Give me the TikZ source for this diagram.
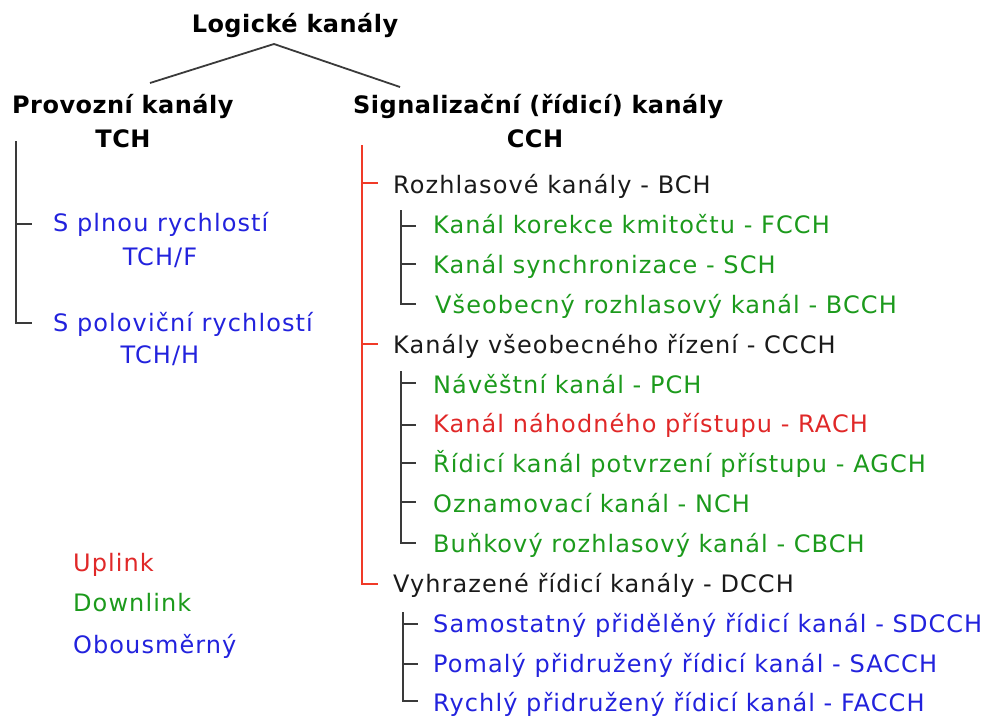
\documentclass[tikz,border=0pt]{standalone}
\usepackage{fontspec}
\setmainfont{DejaVu Sans}[LetterSpace=4.5]
\newfontfamily\headfont{DejaVu Sans}[LetterSpace=2]
\definecolor{upc}{HTML}{E02828}
\definecolor{downc}{HTML}{1C9A1C}
\definecolor{bothc}{HTML}{2222DD}
\definecolor{txtc}{HTML}{1A1A1A}
\definecolor{linec}{HTML}{3A3A3A}
\definecolor{redline}{HTML}{F03A28}
\tikzset{
  x=1pt, y=-1pt,
  lbl/.style={inner sep=0pt, anchor=west, text height=17.5pt, text depth=0pt,
    font=\fontsize{24}{27}\selectfont, text=txtc},
  head/.style={inner sep=0pt, text height=17pt, text depth=0pt,
    font=\headfont\fontsize{24}{27}\selectfont\bfseries, text=black},
  up/.style={lbl, text=upc},
  down/.style={lbl, text=downc},
  both/.style={lbl, text=bothc},
  tree/.style={draw=linec, line width=1.8pt},
  redtree/.style={draw=redline, line width=1.8pt}
}
\begin{document}
\begin{tikzpicture}
\useasboundingbox (0,0) rectangle (990,720);

% headings
\node[head] (root) at (295,24) {Logické kanály};
\node[head, anchor=west] (tch) at (12,105) {Provozní kanály};
\node[head] (tchab) at (123,139) {TCH};
\node[head, anchor=west] (cch) at (353,105) {Signalizační (řídicí) kanály};
\node[head] (cchab) at (535,139) {CCH};

\coordinate (apex) at (274,44);
\coordinate (lend) at (150,83);
\coordinate (rend) at (400,87);
\draw[tree] (lend) -- (apex) -- (rend);

% traffic channels
\node[both] (tchf) at (53,223) {S plnou rychlostí};
\node[both, anchor=center] (tchf2) at (160,257) {TCH/F};
\node[both] (tchh) at (53,323) {S poloviční rychlostí};
\node[both, anchor=center] (tchh2) at (160,355) {TCH/H};

\coordinate (lt) at (16,141);
\coordinate (lb) at (16,323);
\draw[tree] (lt) -- (lb) -- (32,323);
\draw[tree] (16,224) -- (32,224);

% signalling channels, groups
\node[lbl] (bch)  at (393,185) {Rozhlasové kanály - BCH};
\node[lbl] (ccch) at (393,344.5) {Kanály všeobecného řízení - CCCH};
\node[lbl] (dcch) at (393,584) {Vyhrazené řídicí kanály - DCCH};

\coordinate (rt) at (362,145);
\coordinate (rb) at (362,584);
\draw[redtree] (rt) -- (rb) -- (378,584);
\draw[redtree] (362,183) -- (378,183);
\draw[redtree] (362,344) -- (378,344);

% broadcast channels
\node[down] (fcch) at (433,225) {Kanál korekce kmitočtu - FCCH};
\node[down] (sch)  at (433,265) {Kanál synchronizace - SCH};
\node[down] (bcch) at (435,305) {Všeobecný rozhlasový kanál - BCCH};
\draw[tree] (401,210) -- (401,304) -- (416,304);
\draw[tree] (401,226) -- (416,226);
\draw[tree] (401,264) -- (416,264);

% common control channels
\node[down] (pch)  at (433,385) {Návěštní kanál - PCH};
\node[up]   (rach) at (433,424) {Kanál náhodného přístupu - RACH};
\node[down] (agch) at (433,464) {Řídicí kanál potvrzení přístupu - AGCH};
\node[down] (nch)  at (433,504) {Oznamovací kanál - NCH};
\node[down] (cbch) at (433,544) {Buňkový rozhlasový kanál - CBCH};
\draw[tree] (401,371) -- (401,543) -- (416,543);
\foreach \yy in {383,425,463,502} \draw[tree] (401,\yy) -- (416,\yy);

% dedicated control channels
\node[both] (sdcch) at (433,624) {Samostatný přidělěný řídicí kanál - SDCCH};
\node[both] (sacch) at (433,664) {Pomalý přidružený řídicí kanál - SACCH};
\node[both] (facch) at (433,703) {Rychlý přidružený řídicí kanál - FACCH};
\draw[tree] (403,612) -- (403,701) -- (418,701);
\draw[tree] (403,624) -- (418,624);
\draw[tree] (403,664) -- (418,664);

% legend
\node[up]   (lup)   at (73,563) {Uplink};
\node[down] (ldown) at (73,603) {Downlink};
\node[both] (lboth) at (73,645) {Obousměrný};
\end{tikzpicture}
\end{document}
